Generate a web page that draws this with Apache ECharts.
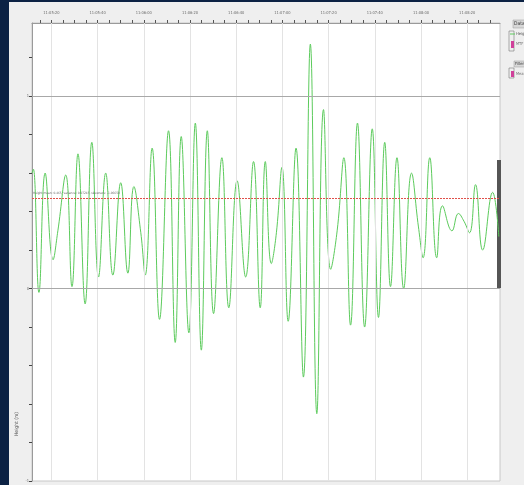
<!DOCTYPE html>
<html>
<head>
<meta charset="utf-8">
<script src="https://cdn.jsdelivr.net/npm/echarts@6/dist/echarts.min.js"></script>
<style>
  html, body { margin: 0; padding: 0; background: #efefef; }
  #chart { width: 524px; height: 485px; }
</style>
</head>
<body>
<div id="chart"></div>
<script>
// Wave record: sample times (hh:mm:ss.s) and surface height (m)
const sampleTimes = [
  '11:05:11.6', '11:05:12.2', '11:05:14.6', '11:05:17.3', '11:05:20.7', '11:05:22.8', '11:05:26.2', '11:05:28.9', '11:05:31.5', '11:05:34.6',
  '11:05:37.5', '11:05:40.4', '11:05:43.5', '11:05:46.6', '11:05:50.0', '11:05:53.1', '11:05:55.7', '11:05:58.7', '11:06:00.6', '11:06:03.6',
  '11:06:06.8', '11:06:10.7', '11:06:13.6', '11:06:16.2', '11:06:19.5', '11:06:22.3', '11:06:24.9', '11:06:27.5', '11:06:30.2', '11:06:33.8',
  '11:06:36.8', '11:06:40.4', '11:06:44.1', '11:06:47.5', '11:06:50.4', '11:06:52.6', '11:06:55.2', '11:06:57.4', '11:06:59.8', '11:07:02.5',
  '11:07:05.9', '11:07:09.1', '11:07:12.1', '11:07:14.9', '11:07:17.8', '11:07:20.9', '11:07:23.7', '11:07:26.6', '11:07:29.5', '11:07:32.5',
  '11:07:35.6', '11:07:38.9', '11:07:41.6', '11:07:44.3', '11:07:46.8', '11:07:49.6', '11:07:52.5', '11:07:55.9', '11:07:58.9', '11:08:00.9',
  '11:08:03.8', '11:08:06.8', '11:08:09.3', '11:08:13.4', '11:08:16.2', '11:08:18.6', '11:08:21.0', '11:08:23.6', '11:08:26.7', '11:08:31.0',
  '11:08:33.7'
];
const heights = [
  0.60, 0.62, -0.02, 0.60, 0.15, 0.30, 0.59, 0.01, 0.70, -0.08,
  0.76, 0.06, 0.60, 0.07, 0.55, 0.08, 0.53, 0.29, 0.07, 0.73,
  -0.16, 0.82, -0.28, 0.79, -0.23, 0.86, -0.32, 0.82, -0.13, 0.68,
  -0.10, 0.56, 0.06, 0.66, -0.10, 0.66, 0.13, 0.29, 0.63, -0.17,
  0.73, -0.46, 1.27, -0.65, 0.93, 0.10, 0.30, 0.68, -0.19, 0.86,
  -0.20, 0.83, -0.15, 0.76, 0.01, 0.68, 0.00, 0.60, 0.32, 0.16,
  0.68, 0.16, 0.43, 0.30, 0.39, 0.35, 0.29, 0.54, 0.20, 0.50,
  0.27
];

// Summary statistics of the record
const meanHeight = 0.465;
const heightVariance = 0.07245;
const heightSkewness = -1.06658;

// Axis ticks
const timeTicks = ['11:05:20', '11:05:40', '11:06:00', '11:06:20', '11:06:40', '11:07:00', '11:07:20', '11:07:40', '11:08:00', '11:08:20'];
const heightTicks = [-1, 0, 1];
const viewStart = '11:05:11.6';
const viewEnd = '11:08:34.2';
const heightMin = -1;
const heightMax = 1.38;

function toSec(s) {
  const p = s.split(':');
  return (+p[0]) * 3600 + (+p[1]) * 60 + (+p[2]);
}
function pad(n) { return (n < 10 ? '0' : '') + n; }
function clock(v) {
  const t = Math.round(v);
  return pad(Math.floor(t / 3600)) + ':' + pad(Math.floor(t / 60) % 60) + ':' + pad(t % 60);
}

const majorSec = timeTicks.map(toSec);
// 5-second minor ticks along the time axis
const minorSec = [];
for (let t = majorSec[0] - 5; t <= majorSec[majorSec.length - 1] + 10; t += 5) minorSec.push(t);
// 0.2 m minor ticks along the height axis
const heightMinor = [];
for (let k = -5; k <= 6; k++) heightMinor.push(+(k * 0.2).toFixed(1));

const seriesData = sampleTimes.map((t, i) => [toSec(t), heights[i]]);

const small = { fontFamily: 'DejaVu Sans Condensed, DejaVu Sans, sans-serif', color: '#6a6a6a' };

const chart = echarts.init(document.getElementById('chart'), null, { renderer: 'canvas' });
chart.setOption({
  animation: false,
  backgroundColor: '#efefef',
  grid: {
    left: 32, right: 24, top: 23, bottom: 4,
    show: true, backgroundColor: '#ffffff', borderColor: '#c8c8c8', borderWidth: 1
  },
  xAxis: {
    type: 'value',
    position: 'top',
    min: toSec(viewStart),
    max: toSec(viewEnd),
    axisLine: { show: true, onZero: false, lineStyle: { color: '#9a9a9a', width: 1 } },
    axisTick: { show: true, customValues: minorSec, length: 3, inside: false, lineStyle: { color: '#555', width: 1 } },
    axisLabel: { show: true, customValues: majorSec, formatter: clock, fontSize: 4, margin: 8, ...small },
    splitLine: { show: false }
  },
  yAxis: {
    type: 'value',
    min: heightMin,
    max: heightMax,
    axisLine: { show: true, onZero: false, lineStyle: { color: '#9a9a9a', width: 1 } },
    axisTick: { show: true, customValues: heightMinor, length: 3, lineStyle: { color: '#444', width: 1 } },
    axisLabel: { show: true, customValues: heightTicks, fontSize: 4, margin: 3, ...small },
    splitLine: { show: false }
  },
  series: [
    {
      // reference grid lines under the record
      name: 'grid',
      type: 'line',
      data: [],
      z: 1,
      silent: true,
      markLine: {
        silent: true,
        symbol: 'none',
        animation: false,
        label: { show: false },
        data: [
          ...majorSec.map(v => ({ xAxis: v, lineStyle: { color: '#e3e3e3', width: 1, type: 'solid' } })),
          ...heightTicks.filter(v => v > heightMin).map(v => ({ yAxis: v, lineStyle: { color: '#a8a8a8', width: 1, type: 'solid' } }))
        ]
      }
    },
    {
      name: 'Height',
      type: 'line',
      data: seriesData,
      z: 3,
      showSymbol: false,
      smooth: 0.45,
      lineStyle: { color: '#5ccb5c', width: 1 },
      markLine: {
        silent: true,
        symbol: 'none',
        animation: false,
        lineStyle: { color: '#e0504a', width: 1, type: [2, 1] },
        label: {
          show: true,
          position: 'insideStartTop',
          distance: [1, 3],
          fontSize: 3.2,
          ...small,
          formatter: () => 'Height mean: ' + meanHeight + ', variance: ' + heightVariance + ', skewness: ' + heightSkewness
        },
        data: [{ yAxis: meanHeight }]
      }
    }
  ],
  graphic: [
    // window frame strip
    { type: 'rect', left: 0, top: 0, shape: { width: 9, height: 485 }, style: { fill: '#0c2244' }, silent: true },
    { type: 'rect', left: 0, top: 0, shape: { width: 524, height: 2 }, style: { fill: '#0c2244' }, silent: true },
    // axis title
    {
      type: 'text', x: 17, y: 424, rotation: Math.PI / 2,
      style: { text: 'Height (m)', fontSize: 5, fill: '#555', align: 'center', verticalAlign: 'middle', fontFamily: small.fontFamily }
    },
    // scroll handle
    { type: 'rect', x: 497, y: 160, shape: { width: 4, height: 128 }, style: { fill: '#555555' }, silent: true },
    // legend panel
    { type: 'rect', x: 513, y: 20, shape: { width: 14, height: 8 }, style: { fill: '#d8d8d8', stroke: '#9a9a9a', lineWidth: 0.5 } },
    { type: 'text', x: 514, y: 24, style: { text: 'Dataset', fontSize: 5, fill: '#333', verticalAlign: 'middle', fontFamily: small.fontFamily } },
    { type: 'rect', x: 509, y: 31, shape: { width: 5, height: 20 }, style: { fill: 'none', stroke: '#777', lineWidth: 0.6 } },
    { type: 'line', shape: { x1: 510, y1: 34, x2: 515, y2: 34 }, style: { stroke: '#5ccb5c', lineWidth: 1 } },
    { type: 'text', x: 516, y: 34, style: { text: 'Height', fontSize: 4, fill: '#555', verticalAlign: 'middle', fontFamily: small.fontFamily } },
    { type: 'rect', x: 511, y: 41, shape: { width: 3, height: 7 }, style: { fill: '#d0409a' } },
    { type: 'text', x: 516, y: 44, style: { text: 'MTF', fontSize: 4, fill: '#777', verticalAlign: 'middle', fontFamily: small.fontFamily } },
    { type: 'rect', x: 514, y: 61, shape: { width: 12, height: 6 }, style: { fill: '#d8d8d8', stroke: '#9a9a9a', lineWidth: 0.5 } },
    { type: 'text', x: 515, y: 64, style: { text: 'Filter', fontSize: 4, fill: '#333', verticalAlign: 'middle', fontFamily: small.fontFamily } },
    { type: 'rect', x: 509, y: 68, shape: { width: 5, height: 10 }, style: { fill: 'none', stroke: '#777', lineWidth: 0.6 } },
    { type: 'rect', x: 511, y: 71, shape: { width: 3, height: 6 }, style: { fill: '#d0409a' } },
    { type: 'text', x: 516, y: 74, style: { text: 'Mean', fontSize: 4, fill: '#777', verticalAlign: 'middle', fontFamily: small.fontFamily } }
  ]
});
</script>
</body>
</html>
